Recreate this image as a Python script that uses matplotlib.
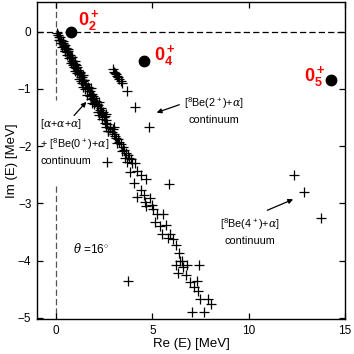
import numpy as np
import matplotlib.pyplot as plt

plt.rcParams['font.family'] = ['Liberation Sans', 'DejaVu Sans']
plt.rcParams['mathtext.fontset'] = 'custom'
plt.rcParams['mathtext.rm'] = 'Liberation Sans'
plt.rcParams['mathtext.it'] = 'DejaVu Serif:italic'
plt.rcParams['mathtext.bf'] = 'Liberation Sans:bold'

# main continuum band [a+a+a] + [8Be(0+)+a]
band_re = [0.05, 0.10, 0.14, 0.18, 0.22, 0.27, 0.31, 0.35, 0.39, 0.44, 0.48, 0.52,
           0.57, 0.61, 0.65, 0.70, 0.74, 0.79, 0.83, 0.88, 0.92, 0.97, 1.01, 1.06,
           1.10, 1.15, 1.20, 1.25, 1.29, 1.34, 1.39, 1.44, 1.49, 1.54, 1.59, 1.64,
           1.69, 1.74, 1.80, 1.85, 1.91, 1.96, 2.02, 2.07, 2.13, 2.19, 2.25, 2.31,
           2.37, 2.43, 2.49, 2.55,
           0.25, 0.45, 0.66, 0.87, 1.08, 1.30, 1.52, 1.73, 1.95, 2.16, 2.38, 2.60,
           0.12, 0.32, 0.55, 0.76, 0.98, 1.19, 1.41, 1.62, 1.84,
           0.35, 0.58, 0.80, 1.02, 1.24, 1.46, 1.68, 1.90, 2.12, 2.34, 2.56, 2.78,
           0.48, 0.92, 1.36, 1.80, 2.24, 2.68,
           0.60, 1.00, 1.40, 1.80, 2.20, 2.60, 3.00,
           2.54, 2.80, 2.69, 3.01, 3.21, 3.37, 3.52, 3.73, 3.89, 4.09, 4.20, 4.40,
           4.66, 4.04, 4.40, 4.20, 4.61, 4.87, 4.66, 4.97, 5.23, 5.54, 5.13, 5.39,
           5.70, 5.49, 5.91, 6.06, 6.22, 6.37, 6.53, 6.79, 6.22, 6.58, 6.32, 6.74,
           6.94, 7.31, 7.15, 7.41, 7.36, 7.46, 7.88, 8.03, 7.05, 7.67,
           2.62, 2.90, 3.10, 3.28, 3.45, 3.62, 3.80, 3.95, 2.95, 3.15, 3.55, 3.70,
           3.05, 3.40, 3.85, 4.55, 5.05, 5.80, 6.45]
band_im = [-0.03, -0.05, -0.10, -0.09, -0.15, -0.14, -0.20, -0.19, -0.25, -0.24, -0.30, -0.29,
           -0.35, -0.34, -0.41, -0.40, -0.46, -0.45, -0.52, -0.51, -0.57, -0.56, -0.63, -0.62,
           -0.68, -0.67, -0.74, -0.73, -0.80, -0.79, -0.86, -0.85, -0.92, -0.91, -0.98, -0.97,
           -1.04, -1.03, -1.10, -1.09, -1.16, -1.15, -1.23, -1.21, -1.29, -1.28, -1.36, -1.34,
           -1.42, -1.41, -1.49, -1.47,
           -0.20, -0.33, -0.46, -0.59, -0.72, -0.86, -1.00, -1.13, -1.27, -1.40, -1.53, -1.67,
           -0.14, -0.27, -0.41, -0.55, -0.69, -0.83, -0.97, -1.11, -1.25,
           -0.16, -0.30, -0.44, -0.58, -0.71, -0.85, -0.99, -1.12, -1.26, -1.40, -1.54, -1.68,
           -0.34, -0.62, -0.90, -1.18, -1.46, -1.74,
           -0.30, -0.52, -0.76, -0.98, -1.22, -1.44, -1.66,
           -1.59, -1.66, -1.73, -1.78, -1.88, -1.97, -2.06, -2.15, -2.23, -2.30, -2.43, -2.51,
           -2.57, -2.64, -2.76, -2.88, -2.98, -2.91, -3.05, -3.02, -3.18, -3.18, -3.32, -3.39,
           -3.37, -3.53, -3.53, -3.63, -3.73, -3.87, -4.01, -4.07, -4.07, -4.12, -4.21, -4.26,
           -4.38, -4.35, -4.47, -4.08, -4.54, -4.68, -4.68, -4.75, -4.90, -4.90,
           -1.62, -1.76, -1.85, -1.93, -2.02, -2.12, -2.20, -2.30, -1.70, -1.95, -2.20, -2.28,
           -1.82, -2.08, -2.45, -2.86, -3.10, -3.60, -4.00]

# [8Be(2+)+a] branch
be2_re = [2.95, 3.00, 3.06, 3.12, 3.16, 3.22, 3.26, 3.35, 3.42, 3.68, 4.09, 4.82]
be2_im = [-0.66, -0.70, -0.72, -0.74, -0.77, -0.80, -0.82, -0.86, -0.89, -1.03, -1.31, -1.66]

# [8Be(4+)+a] and stray points
other_re = [12.33, 12.85, 13.73, 5.86, 3.74, 2.65]
other_im = [-2.51, -2.81, -3.25, -2.67, -4.36, -2.27]

# resonances
res_re = [0.76, 4.56, 14.28]
res_im = [0.0, -0.52, -0.84]
res_lab = [r'$\mathbf{0_2^+}$', r'$\mathbf{0_4^+}$', r'$\mathbf{0_5^+}$']
lab_re = [1.14, 5.08, 12.85]
lab_im = [0.12, -0.49, -0.87]

fig = plt.figure(figsize=(3.54, 3.54), dpi=100)
ax = fig.add_axes([0.1045, 0.099, 0.870, 0.8955])

dash = (0, (5, 2.5))
ax.axhline(0, color='black', lw=0.9, ls=dash, zorder=1)
ax.plot([0, 0], [0.52, -1.20], color='#555555', lw=0.9, ls=dash, zorder=1)
ax.plot([0, 0], [-2.70, -5.02], color='#555555', lw=0.9, ls=dash, zorder=1)

cross = dict(ls='none', marker='+', ms=7, mew=0.9, color='black', zorder=3)
ax.plot(band_re, band_im, **cross)
ax.plot(be2_re, be2_im, **cross)
ax.plot(other_re, other_im, **cross)
ax.plot(res_re, res_im, ls='none', marker='o', ms=7.5, color='black', zorder=4)

for x, y, s in zip(lab_re, lab_im, res_lab):
    ax.text(x, y, s, color='red', fontsize=13, ha='left', va='baseline')

small = 7.8
ax.text(-0.83, -1.49, '[$\\alpha$+$\\alpha$+$\\alpha$]\n+ [$^8$Be(0$^+$)+$\\alpha$]\ncontinuum',
        fontsize=small, ha='left', va='top', linespacing=1.45, zorder=2)
ax.annotate('', xy=(1.66, -1.19), xytext=(0.83, -1.50),
            arrowprops=dict(arrowstyle='-|>', color='black', lw=0.9, mutation_scale=7))

ax.text(8.19, -1.24, '[$^8$Be(2$^+$)+$\\alpha$]', fontsize=small, ha='center', va='center')
ax.text(8.19, -1.54, 'continuum', fontsize=small, ha='center', va='center')
ax.annotate('', xy=(5.08, -1.43), xytext=(6.53, -1.26),
            arrowprops=dict(arrowstyle='-|>', color='black', lw=0.9, mutation_scale=7))

ax.text(10.05, -3.37, '[$^8$Be(4$^+$)+$\\alpha$]', fontsize=small, ha='center', va='center')
ax.text(10.05, -3.65, 'continuum', fontsize=small, ha='center', va='center')
ax.annotate('', xy=(12.44, -2.91), xytext=(10.83, -3.14),
            arrowprops=dict(arrowstyle='-|>', color='black', lw=0.9, mutation_scale=7))

ax.text(0.85, -3.80, r'$\theta$ =16$^{\circ}$', fontsize=8.5, ha='left', va='center')

ax.set_xlim(-1, 15)
ax.set_ylim(-5.02, 0.52)
ax.set_xticks([0, 5, 10, 15])
ax.set_yticks([0, -1, -2, -3, -4, -5])
ax.tick_params(direction='in', top=True, right=True, length=4, width=0.9,
               labelsize=8.5, pad=4)
for sp in ax.spines.values():
    sp.set_linewidth(1.0)

ax.set_xlabel('Re (E) [MeV]', fontsize=9.5, labelpad=1)
ax.set_ylabel('Im (E) [MeV]', fontsize=9.5, labelpad=0)

fig.savefig('out.png', dpi=100)
